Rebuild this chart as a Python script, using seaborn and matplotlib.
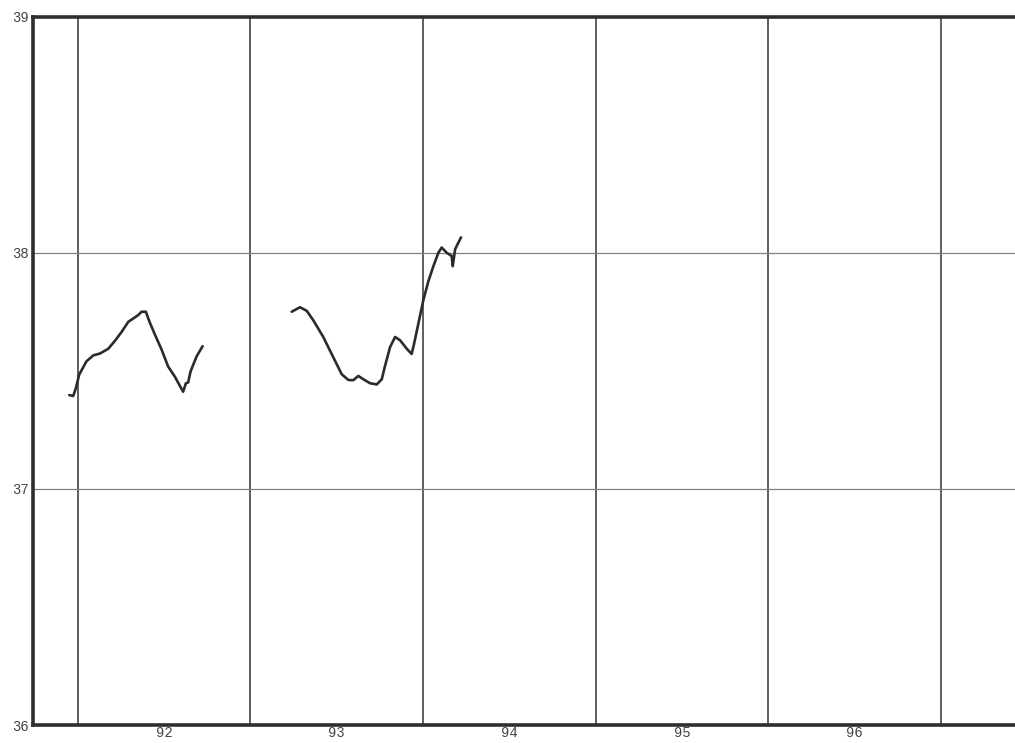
import matplotlib
matplotlib.use("Agg")
import matplotlib.pyplot as plt
import seaborn as sns
import pandas as pd

# Record 1: late 1991 through autumn 1992
seg1_x = [91.950, 91.973, 91.988, 92.008, 92.050, 92.089, 92.128, 92.176, 92.214,
          92.253, 92.292, 92.330, 92.350, 92.369, 92.394, 92.417, 92.446, 92.485,
          92.523, 92.562, 92.610, 92.626, 92.639, 92.653, 92.688, 92.723]
seg1_y = [37.398, 37.394, 37.426, 37.485, 37.541, 37.566, 37.574, 37.594, 37.627,
          37.665, 37.708, 37.727, 37.737, 37.751, 37.751, 37.705, 37.655, 37.591,
          37.519, 37.476, 37.412, 37.448, 37.451, 37.498, 37.562, 37.605]

# Record 2: spring 1993 through early 1994
seg2_x = [93.239, 93.287, 93.326, 93.364, 93.422, 93.480, 93.529, 93.567, 93.596,
          93.625, 93.654, 93.693, 93.732, 93.761, 93.780, 93.809, 93.838, 93.867,
          93.906, 93.934, 93.948, 93.973, 94.002, 94.031, 94.060, 94.089, 94.108,
          94.137, 94.166, 94.172, 94.186, 94.205, 94.220]
seg2_y = [37.751, 37.770, 37.755, 37.715, 37.644, 37.558, 37.486, 37.462, 37.461,
          37.479, 37.465, 37.448, 37.443, 37.465, 37.522, 37.601, 37.644, 37.630,
          37.594, 37.572, 37.615, 37.701, 37.801, 37.880, 37.944, 38.001, 38.023,
          38.001, 37.987, 37.944, 38.016, 38.044, 38.066]

year_bounds = [92, 93, 94, 95, 96, 97]
year_labels = ["92", "93", "94", "95", "96"]
y_ticks = [36, 37, 38, 39]

df = pd.concat([
    pd.DataFrame({"t": seg1_x, "v": seg1_y, "seg": 1}),
    pd.DataFrame({"t": seg2_x, "v": seg2_y, "seg": 2}),
], ignore_index=True)

sns.set_theme(style="white")
plt.rcParams["font.family"] = ["Liberation Mono", "DejaVu Sans Mono"]

fig = plt.figure(figsize=(10.15, 7.43), dpi=100)
ax = fig.add_axes([0.0325, 0.0242, 0.9675, 0.953])

# vertical year boundaries and horizontal value lines
for yb in year_bounds:
    ax.axvline(yb, color="#333333", lw=1.1, zorder=1)
for yv in [37, 38]:
    ax.axhline(yv, color="#808080", lw=0.9, zorder=1)

sns.lineplot(data=df, x="t", y="v", units="seg", estimator=None, sort=False,
             color="#2b2b2b", lw=1.9, ax=ax, zorder=3)

ax.set_xlim(91.74, 97.43)
ax.set_ylim(36, 39)

ax.set_xticks(year_bounds)
ax.set_xticklabels([])
ax.set_xticks([y + 0.5 for y in year_bounds[:-1]], minor=True)
ax.set_xticklabels(year_labels, minor=True)
ax.set_yticks(y_ticks)
ax.set_yticklabels([str(v) for v in y_ticks])
ax.tick_params(axis="x", which="both", length=0, pad=1, labelsize=10, labelcolor="#444444")
ax.tick_params(axis="y", length=0, pad=3, labelsize=10, labelcolor="#444444")

ax.set_xlabel("")
ax.set_ylabel("")
if ax.get_legend() is not None:
    ax.get_legend().remove()

for side in ["left", "bottom", "top"]:
    ax.spines[side].set_color("#2e2e2e")
    ax.spines[side].set_linewidth(2.6)
ax.spines["right"].set_visible(False)

fig.savefig("out.png", dpi=100)
